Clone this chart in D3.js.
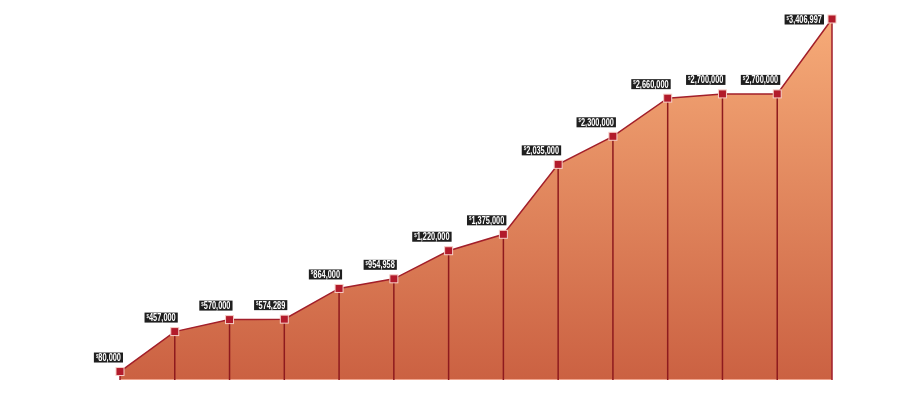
<!DOCTYPE html>
<html>
<head>
<meta charset="utf-8">
<style>
  html, body { margin: 0; padding: 0; background: #fff; }
  svg { display: block; will-change: transform; opacity: 0.999; }
  .lbl { font-family: "Liberation Sans Narrow", "Liberation Sans", Arial, sans-serif; font-weight: bold; fill: #fff; }
</style>
</head>
<body>
<svg width="900" height="408"></svg>
<script src="https://d3js.org/d3.v7.min.js"></script>
<script>

// values, one per step
var steps = d3.range(14);
var values = [80000, 457000, 570000, 574289, 864000, 954958, 1220000,
              1375000, 2035000, 2300000, 2660000, 2700000, 2700000, 3406997];

var svg = d3.select("svg"),
    plotLeft = 120, plotRight = 832, plotTop = 19, plotBottom = 380;

var x = d3.scalePoint().domain(steps).range([plotLeft, plotRight]);
var y = d3.scaleLinear().domain([0, d3.max(values)]).range([plotBottom, plotTop]);

var fmt = d3.format(",");

var defs = svg.append("defs");
var grad = defs.append("linearGradient")
    .attr("id", "fill")
    .attr("gradientUnits", "userSpaceOnUse")
    .attr("x1", 0).attr("x2", 0)
    .attr("y1", y(d3.max(values))).attr("y2", plotBottom);
grad.append("stop").attr("offset", "0%").attr("stop-color", "#f6ab78");
grad.append("stop").attr("offset", "100%").attr("stop-color", "#cb6142");

var area = d3.area()
    .x(function(d, i) { return x(i); })
    .y0(plotBottom)
    .y1(function(d) { return y(d); });

var line = d3.line()
    .x(function(d, i) { return x(i); })
    .y(function(d) { return y(d); });

svg.append("path")
    .datum(values)
    .attr("d", area)
    .attr("fill", "url(#fill)");

// thin light edge along the base
svg.append("line")
    .attr("x1", plotLeft).attr("x2", plotRight)
    .attr("y1", plotBottom - 0.5).attr("y2", plotBottom - 0.5)
    .attr("stroke", "#f0a58e").attr("stroke-width", 1);

// drop lines
svg.selectAll("line.drop")
    .data(values)
  .enter().append("line")
    .attr("class", "drop")
    .attr("x1", function(d, i) { return x(i); })
    .attr("x2", function(d, i) { return x(i); })
    .attr("y1", function(d) { return y(d); })
    .attr("y2", plotBottom)
    .attr("stroke", function(d, i) { return i === 0 || i === values.length - 1 ? "#a01c2a" : "#8e1a1e"; })
    .attr("stroke-width", 1.5);

svg.append("path")
    .datum(values)
    .attr("d", line)
    .attr("fill", "none")
    .attr("stroke", "#a21f2a")
    .attr("stroke-width", 1.5);

// markers
svg.selectAll("rect.mark")
    .data(values)
  .enter().append("rect")
    .attr("class", "mark")
    .attr("x", function(d, i) { return x(i) - 4; })
    .attr("y", function(d) { return y(d) - 4; })
    .attr("width", 8)
    .attr("height", 8)
    .attr("fill", "#b21b2b")
    .attr("stroke", "#f6cfc8")
    .attr("stroke-width", 1);

// labels: condensed by squeezing the text horizontally
var squeeze = 0.74;
var labels = svg.selectAll("g.lbl")
    .data(values)
  .enter().append("g")
    .attr("class", "lbl");

labels.each(function(d, i) {
  var g = d3.select(this);
  var box = g.append("rect").attr("fill", "#1f1f1f");
  var t = g.append("text").attr("class", "lbl").attr("font-size", 10);
  t.append("tspan").attr("font-size", 6).attr("dy", -3.5).text("$");
  t.append("tspan").attr("dy", 3.5).text(fmt(d));
  var w = t.node().getComputedTextLength() * squeeze + 4;
  var last = i === values.length - 1;
  var bx = last ? x(i) - 8 - w : x(i) + 3 - w,
      by = last ? y(d) - 4.5 : y(d) - 19;
  box.attr("x", bx).attr("y", by).attr("width", w).attr("height", 10);
  t.attr("transform", "translate(" + (bx + 2) + "," + (by + 8.5) + ") scale(" + squeeze + ",1)");
});

</script>
</body>
</html>
